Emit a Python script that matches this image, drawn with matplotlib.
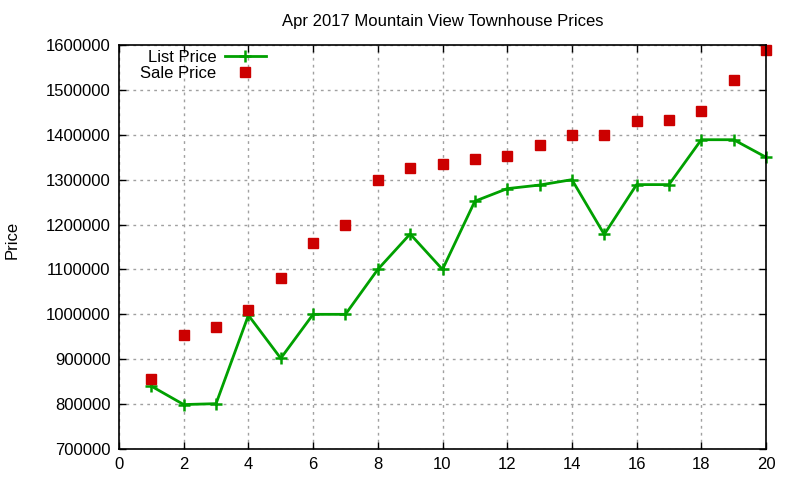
import matplotlib
matplotlib.use("Agg")
import matplotlib.pyplot as plt

plt.rcParams['font.family'] = ['Liberation Sans', 'DejaVu Sans']

days = list(range(1, 21))
list_price = [840000, 799000, 801000, 998000, 902000, 1000000, 1000000, 1100000, 1179000, 1100000,
              1252000, 1280000, 1288000, 1300000, 1178000, 1289000, 1289000, 1389000, 1389000, 1350000]
sale_price = [855000, 954000, 972000, 1010000, 1081000, 1159000, 1200000, 1300000, 1327000, 1334000,
              1347000, 1352000, 1377000, 1400000, 1400000, 1430000, 1432000, 1452000, 1521000, 1588000]
y_ticks = list(range(700000, 1600001, 100000))
x_ticks = list(range(0, 21, 2))

fig = plt.figure(figsize=(8, 4.8), dpi=100)
ax = fig.add_axes([119 / 800, 31 / 480, 647 / 800, 404 / 480])

ax.plot(days, list_price, color='#00a000', lw=2, marker='+', ms=8, mew=1.8,
        label='List Price', clip_on=False)
ax.plot(days, sale_price, ls='none', color='#cc0000', marker='s', ms=6.5,
        label='Sale Price', clip_on=False)

ax.set_xlim(0, 20)
ax.set_ylim(700000, 1600000)
ax.set_xticks(x_ticks)
ax.set_yticks(y_ticks)
ax.set_yticklabels([str(v) for v in y_ticks])
ax.tick_params(direction='in', length=5, width=1, top=True, right=True, labelsize=12, pad=6)
ax.grid(True, color='#a0a0a0', ls=(0, (2, 3)), lw=1)
for s in ax.spines.values():
    s.set_linewidth(1.2)

ax.set_title('Apr 2017 Mountain View Townhouse Prices', fontsize=12, pad=14)
fig.text(12 / 800, 0.5, 'Price', rotation=90, va='center', ha='center', fontsize=12)

leg = ax.legend(loc='upper left', frameon=False, markerfirst=False, fontsize=12,
                bbox_to_anchor=(0.012, 1.02), handlelength=2.5, handletextpad=0.5,
                labelspacing=0.05, borderpad=0.3)
for t in leg.get_texts():
    t.set_ha('right')

fig.savefig('out.png', dpi=100)
